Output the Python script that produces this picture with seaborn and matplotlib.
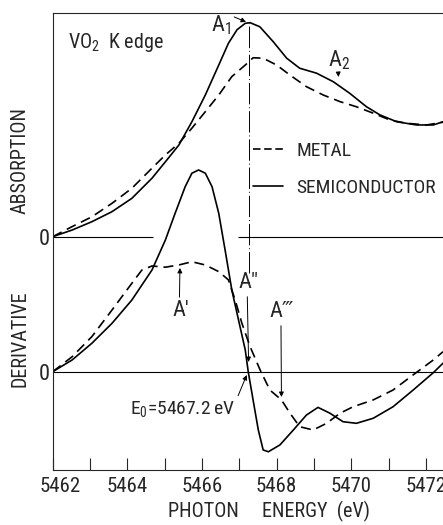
import matplotlib
matplotlib.use("Agg")
import matplotlib.pyplot as plt
import matplotlib.transforms as mtransforms
from matplotlib.lines import Line2D
from matplotlib.ticker import MultipleLocator
import seaborn as sns
import pandas as pd

# absorption (normalised to semiconductor peak)
abs_semi_e = [5462.0, 5462.52, 5463.05, 5463.59, 5464.12, 5464.66, 5465.02, 5465.38, 5465.73,
              5466.09, 5466.45, 5466.71, 5466.94, 5467.16, 5467.29, 5467.55, 5467.91, 5468.27,
              5468.62, 5469.07, 5469.52, 5469.96, 5470.41, 5470.77, 5471.22, 5471.75, 5472.20,
              5472.46]
abs_semi = [0.0, 0.031, 0.070, 0.117, 0.179, 0.273, 0.350, 0.428, 0.537,
            0.662, 0.802, 0.904, 0.967, 0.997, 1.0, 0.981, 0.911, 0.834,
            0.787, 0.764, 0.724, 0.670, 0.607, 0.569, 0.537, 0.522, 0.522,
            0.537]

abs_metal_e = [5462.0, 5462.52, 5463.05, 5463.59, 5464.12, 5464.66, 5465.02, 5465.38, 5465.73,
               5466.09, 5466.45, 5466.80, 5467.16, 5467.37, 5467.64, 5468.00, 5468.36, 5468.80,
               5469.25, 5469.70, 5470.14, 5470.59, 5471.04, 5471.48, 5472.02, 5472.46]
abs_metal = [0.0, 0.047, 0.093, 0.156, 0.226, 0.320, 0.382, 0.436, 0.507,
             0.584, 0.662, 0.748, 0.802, 0.836, 0.834, 0.802, 0.755, 0.701,
             0.662, 0.631, 0.607, 0.577, 0.545, 0.530, 0.522, 0.535]

# derivative (normalised to semiconductor peak)
der_semi_e = [5462.0, 5462.52, 5463.05, 5463.59, 5464.12, 5464.66, 5465.02, 5465.28, 5465.55,
              5465.73, 5465.91, 5466.09, 5466.27, 5466.45, 5466.62, 5466.80, 5466.98, 5467.16,
              5467.24, 5467.37, 5467.51, 5467.64, 5467.78, 5468.09, 5468.45, 5468.80, 5469.11,
              5469.43, 5469.78, 5470.14, 5470.59, 5471.12, 5471.66, 5472.20, 5472.46]
der_semi = [0.0, 0.058, 0.141, 0.240, 0.355, 0.504, 0.653, 0.785, 0.917,
            0.984, 1.0, 0.984, 0.917, 0.785, 0.603, 0.405, 0.256, 0.108,
            0.0, -0.140, -0.289, -0.388, -0.397, -0.363, -0.289, -0.215, -0.177,
            -0.206, -0.248, -0.256, -0.231, -0.174, -0.091, -0.005, 0.042]

der_metal_e = [5462.0, 5462.52, 5463.05, 5463.59, 5464.12, 5464.39, 5464.66, 5465.02, 5465.38,
               5465.73, 5466.09, 5466.45, 5466.71, 5466.89, 5467.07, 5467.29, 5467.56, 5467.82,
               5468.13, 5468.36, 5468.62, 5468.98, 5469.34, 5469.70, 5470.05, 5470.59, 5471.12,
               5471.66, 5472.20, 5472.46]
der_metal = [0.0, 0.074, 0.174, 0.306, 0.438, 0.504, 0.524, 0.518, 0.529,
             0.545, 0.529, 0.496, 0.455, 0.355, 0.240, 0.124, 0.008, -0.091,
             -0.140, -0.206, -0.273, -0.289, -0.256, -0.206, -0.174, -0.140, -0.091,
             -0.016, 0.058, 0.099]

E0 = 5467.2
tick_pos = [5462, 5464, 5466, 5468, 5470, 5472]

# vertical layout of the two panels (in plot units)
ABS_BASE, ABS_SCALE = 233.3, 214.0
DER_BASE, DER_SCALE = 98.3, 201.7
FONTS = ['Roboto Condensed', 'DejaVu Sans']


def main():
    sns.set_style('ticks')
    plt.rcParams['font.family'] = FONTS
    plt.rcParams['mathtext.fontset'] = 'custom'
    plt.rcParams['mathtext.rm'] = FONTS[0]
    plt.rcParams['mathtext.it'] = FONTS[0]

    fig = plt.figure(figsize=(4.43, 5.25), dpi=100)
    ax = fig.add_axes([0.119, 0.1048, 0.881, 0.8705])

    dash = (0, (6, 3.5))
    lw = 1.2
    df = pd.DataFrame({'e': abs_semi_e, 'v': [ABS_BASE + ABS_SCALE * v for v in abs_semi]})
    sns.lineplot(data=df, x='e', y='v', ax=ax, color='black', lw=lw, sort=False, estimator=None)
    df = pd.DataFrame({'e': abs_metal_e, 'v': [ABS_BASE + ABS_SCALE * v for v in abs_metal]})
    sns.lineplot(data=df, x='e', y='v', ax=ax, color='black', lw=lw, linestyle=dash,
                 sort=False, estimator=None)
    df = pd.DataFrame({'e': der_semi_e, 'v': [DER_BASE + DER_SCALE * v for v in der_semi]})
    sns.lineplot(data=df, x='e', y='v', ax=ax, color='black', lw=lw, sort=False, estimator=None)
    df = pd.DataFrame({'e': der_metal_e, 'v': [DER_BASE + DER_SCALE * v for v in der_metal]})
    sns.lineplot(data=df, x='e', y='v', ax=ax, color='black', lw=lw, linestyle=dash,
                 sort=False, estimator=None)

    # zero lines
    ax.hlines(ABS_BASE, 5462, 5464.69, color='black', lw=0.8)
    ax.hlines(ABS_BASE, 5466.96, 5472.6, color='black', lw=0.8)
    ax.axhline(DER_BASE, color='black', lw=0.8)

    # E0 marker line
    ax.vlines(E0 + 0.05, 197, 448, color='black', lw=0.7, linestyles=[(0, (22, 3, 1, 3))])

    ax.set_xlim(5462, 5472.46)
    ax.set_ylim(0, 457)
    ax.xaxis.set_minor_locator(MultipleLocator(1))
    ax.set_xticks(tick_pos)
    ax.tick_params(axis='x', which='both', direction='in', length=8.5, width=0.8,
                   labelsize=15, pad=5)
    first = ax.get_xticklabels()[0]
    first.set_transform(first.get_transform()
                        + mtransforms.ScaledTranslation(5 / 72, 0, fig.dpi_scale_trans))
    ax.set_yticks([DER_BASE, ABS_BASE], ['0', '0'])
    ax.tick_params(axis='y', length=0, labelsize=16, pad=2)
    ax.spines['right'].set_visible(False)
    for s in ['left', 'bottom', 'top']:
        ax.spines[s].set_linewidth(0.8)
    ax.set_xlabel('PHOTON     ENERGY  (eV)', fontsize=14.5)
    ax.xaxis.set_label_coords(0.554, -0.068)
    ax.set_ylabel('')

    fig.text(0.045, 1 - 160 / 525, 'ABSORPTION', rotation=90, fontsize=14.5,
             ha='center', va='center')
    fig.text(0.045, 1 - 339 / 525, 'DERIVATIVE', rotation=90, fontsize=14.5,
             ha='center', va='center')

    ax.text(5462.42, 427.5, 'VO$_2$  K edge', fontsize=14.5, ha='left', va='center')

    arr = dict(arrowstyle='-|>', lw=0.7, color='black', mutation_scale=7, shrinkA=0, shrinkB=0)
    ax.annotate('A$_1$', xy=(5467.18, 448), xytext=(5466.51, 445), fontsize=16,
                ha='center', va='center', arrowprops=dict(arr, relpos=(1.0, 0.9)))
    ax.annotate('A$_2$', xy=(5469.66, 393), xytext=(5469.68, 410), fontsize=16,
                ha='center', va='center', arrowprops=dict(arr, relpos=(0.45, 0.0)))
    ax.annotate('A\u2032', xy=(5465.41, 202), xytext=(5465.44, 159), fontsize=16,
                ha='center', va='center', arrowprops=dict(arr, relpos=(0.4, 1.0)))
    ax.annotate('A\u2033', xy=(E0 + 0.05, 108), xytext=(5467.24, 187), fontsize=16,
                ha='center', va='center', arrowprops=dict(arr, relpos=(0.45, 0.0)))
    ax.annotate('A\u2034', xy=(5468.13, 73), xytext=(5468.15, 158), fontsize=16,
                ha='center', va='center', arrowprops=dict(arr, relpos=(0.45, 0.0)))
    ax.annotate('E$_0$=5467.2\u2009eV', xy=(E0, 95), xytext=(5464.07, 61), fontsize=14,
                ha='left', va='center', arrowprops=dict(arr, relpos=(1.0, 0.8)))

    handles = [Line2D([], [], color='black', lw=lw, linestyle=(0, (4.5, 2.2))),
               Line2D([], [], color='black', lw=lw)]
    ax.legend(handles, ['METAL', 'SEMICONDUCTOR'], loc='upper left',
              bbox_to_anchor=(0.513, 0.718), frameon=False, fontsize=14,
              handlelength=1.55, handletextpad=0.7, labelspacing=1.0,
              borderpad=0, borderaxespad=0)

    plt.savefig('out.png', dpi=100)


if __name__ == '__main__':
    main()
